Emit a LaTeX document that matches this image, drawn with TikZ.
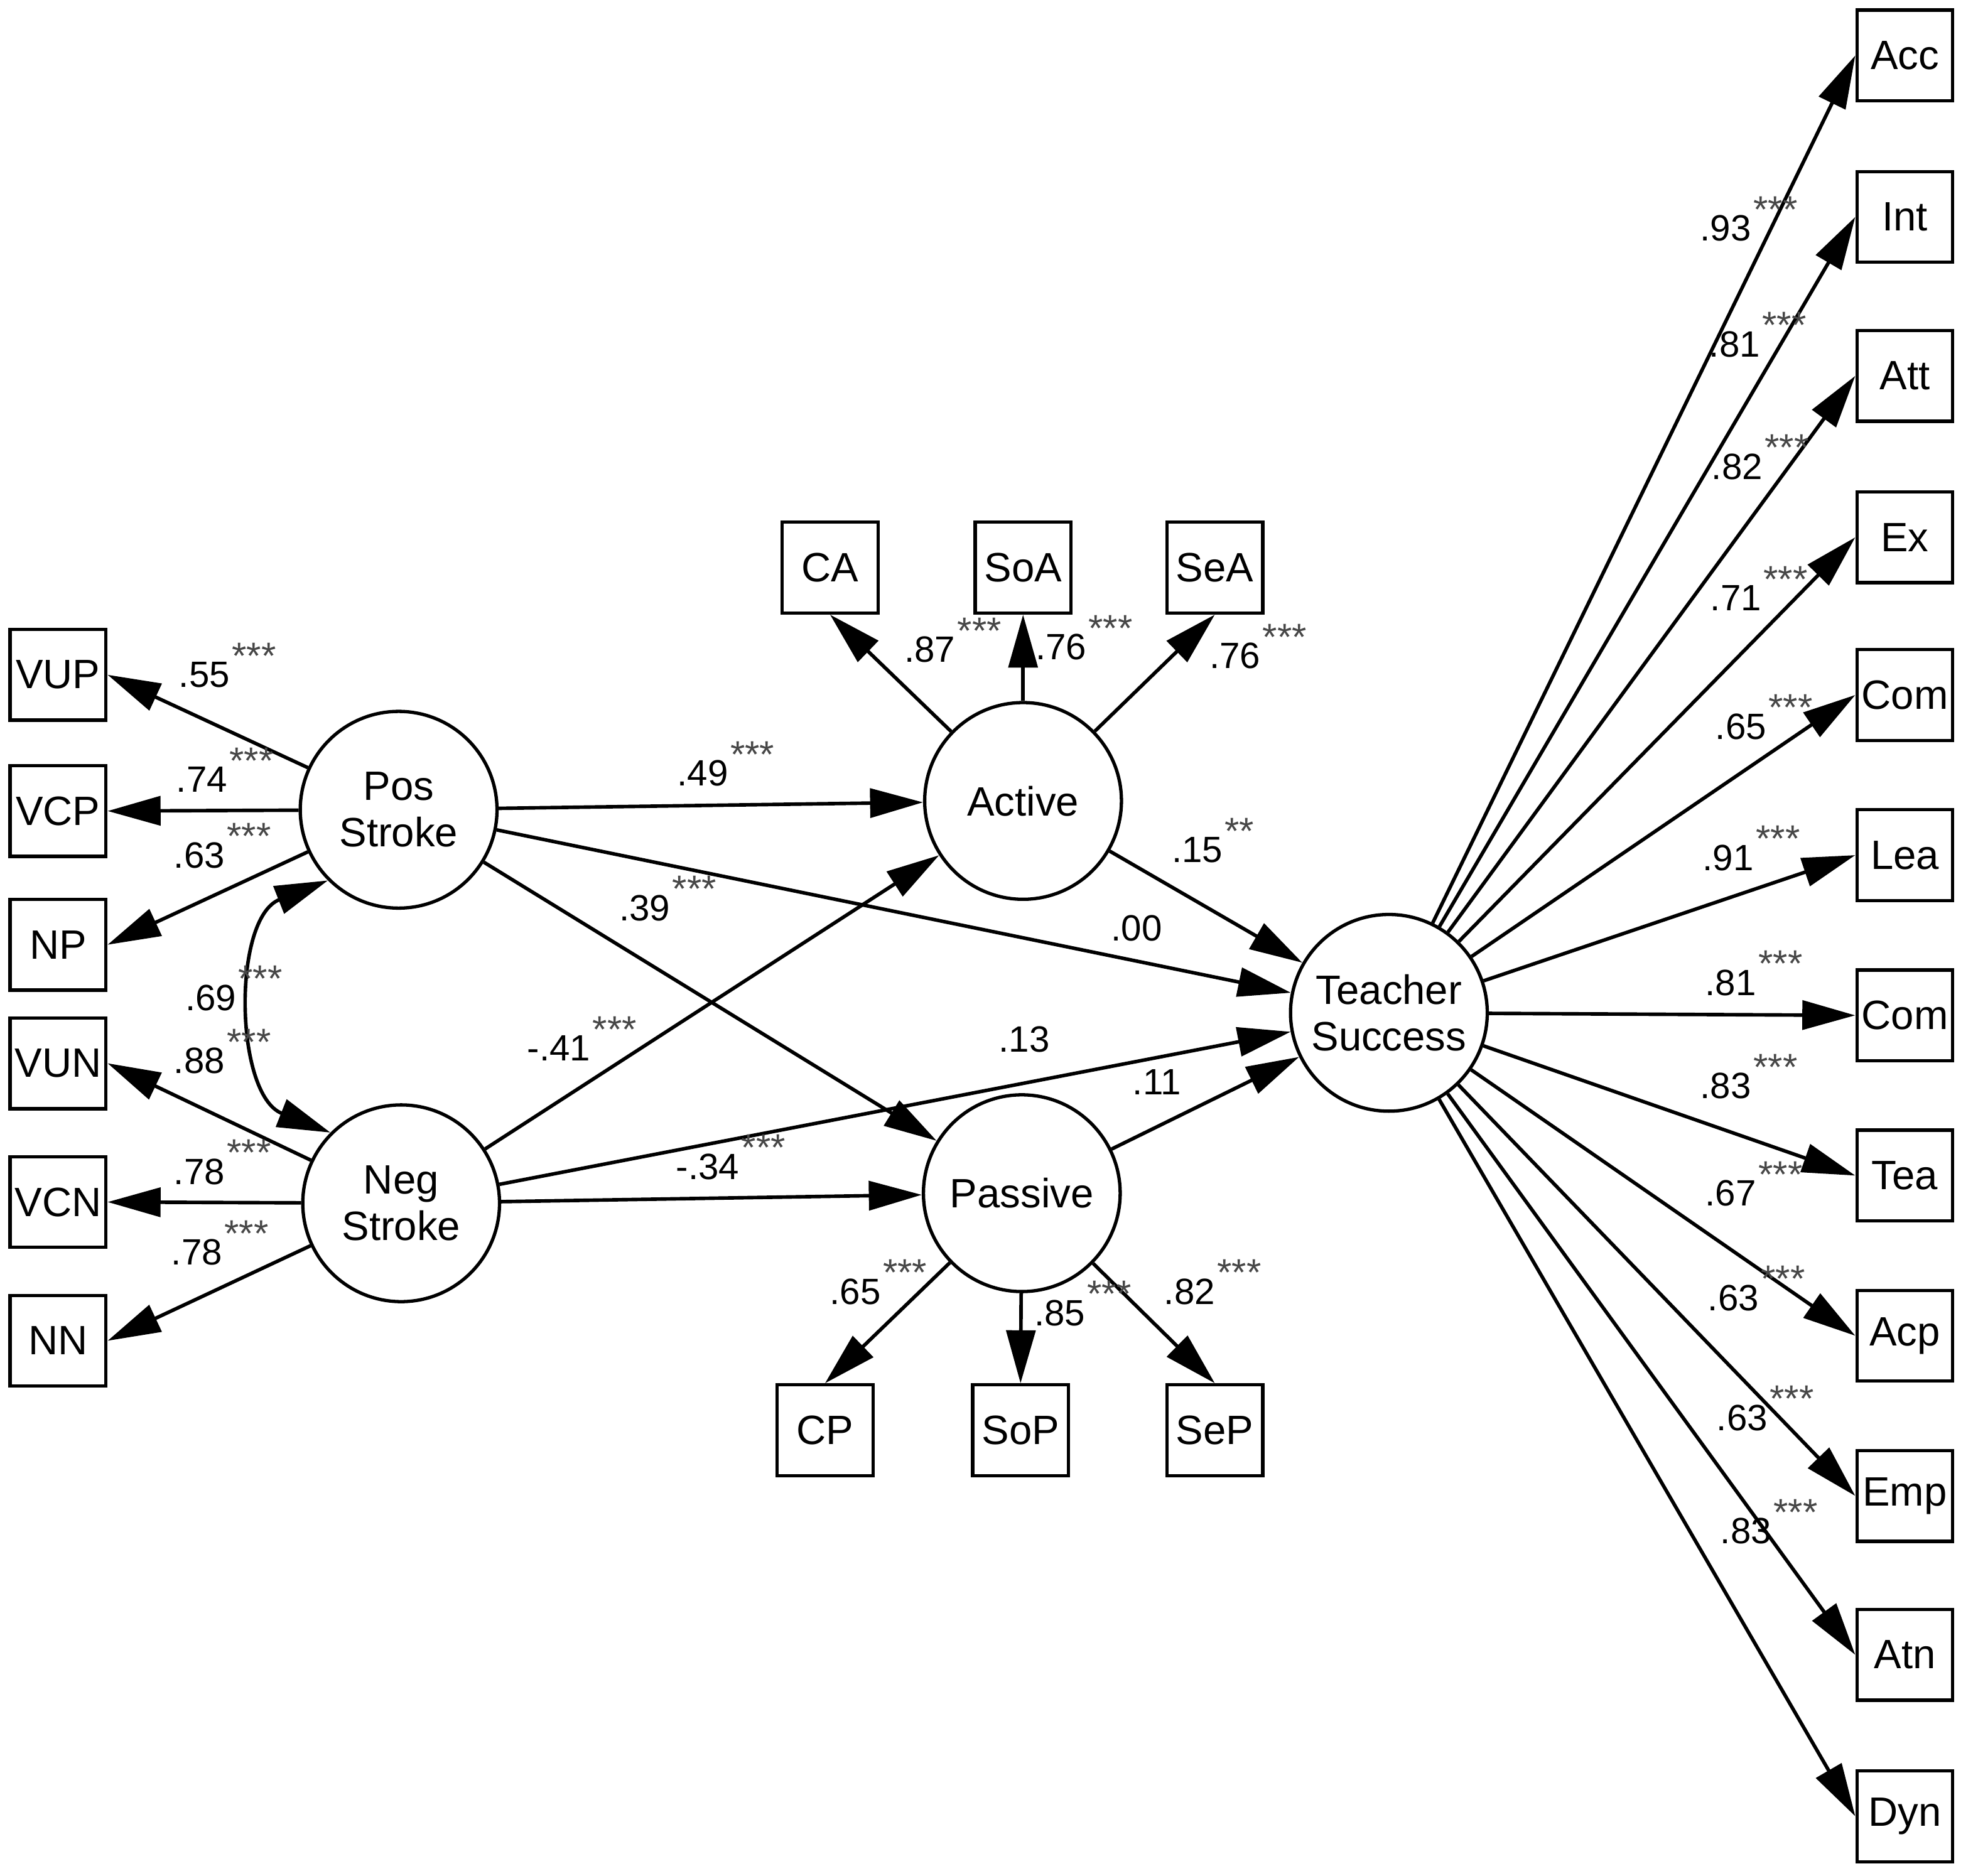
\documentclass[tikz,border=0pt]{standalone}
\usepackage{fontspec}
\setmainfont{Liberation Sans}
\usetikzlibrary{arrows.meta}

\tikzset{
  obs/.style={draw, line width=1.5pt, minimum width=1.52cm, minimum height=1.44cm,
    inner sep=0pt, font=\fontsize{18.5}{21}\selectfont},
  lat/.style={draw, circle, line width=1.5pt, minimum size=3.12cm, inner sep=0pt,
    align=center, font=\fontsize{18.5}{21}\selectfont},
  coef/.style={inner sep=0pt, font=\fontsize{16.5}{18}\selectfont},
  sig/.style={inner sep=0pt, anchor=north west, text=black!72,
    font=\fontsize{17}{18}\selectfont},
}
% coefficient with its stars: name, position, value, stars
\newcommand{\est}[4]{%
  \node[coef] (#1) at (#2) {#3};
  \node[sig] at ([xshift=-0.02cm,yshift=0.3cm]#1.north east) {#4};}

\begin{document}
\begin{tikzpicture}[x=0.02cm, y=-0.02cm, line width=1.6pt,
  >={Triangle[length=0.84cm,width=0.46cm]}]
  \useasboundingbox (0,0) rectangle (1568,1487);

  % left indicators
  \node[obs] (vup) at (46,535) {VUP};
  \node[obs] (vcp) at (46,643) {VCP};
  \node[obs] (np) at (46,749) {NP};
  \node[obs] (vun) at (46,843) {VUN};
  \node[obs] (vcn) at (46,953) {VCN};
  \node[obs] (nn) at (46,1063) {NN};

  % latent variables
  \node[lat] (pos) at (316,642) {Pos\\Stroke};
  \node[lat] (neg) at (318,954) {Neg\\Stroke};
  \node[lat] (act) at (811,635) {Active};
  \node[lat] (pas) at (810,946) {Passive};
  \node[lat] (ts) at (1101,803) {Teacher\\Success};

  % active / passive indicators
  \node[obs] (ca) at (658,450) {CA};
  \node[obs] (soa) at (811,450) {SoA};
  \node[obs] (sea) at (963,450) {SeA};
  \node[obs] (cp) at (654,1134) {CP};
  \node[obs] (sop) at (809,1134) {SoP};
  \node[obs] (sep) at (963,1134) {SeP};

  % teacher success indicators
  \node[obs] (acc) at (1510,44) {Acc};
  \node[obs] (int) at (1510,172) {Int};
  \node[obs] (att) at (1510,298) {Att};
  \node[obs] (ex) at (1510,426) {Ex};
  \node[obs] (coma) at (1510,551) {Com};
  \node[obs] (lea) at (1510,678) {Lea};
  \node[obs] (comb) at (1510,805) {Com};
  \node[obs] (tea) at (1510,932) {Tea};
  \node[obs] (acp) at (1510,1059) {Acp};
  \node[obs] (emp) at (1510,1186) {Emp};
  \node[obs] (atn) at (1510,1312) {Atn};
  \node[obs] (dyn) at (1510,1440) {Dyn};

  % loadings
  \draw[->] (pos) -- (vup.east);
  \draw[->] (pos) -- (vcp.east);
  \draw[->] (pos) -- (np.east);
  \draw[->] (neg) -- (vun.east);
  \draw[->] (neg) -- (vcn.east);
  \draw[->] (neg) -- (nn.east);
  \draw[->] (act) -- (ca.south);
  \draw[->] (act) -- (soa.south);
  \draw[->] (act) -- (sea.south);
  \draw[->] (pas) -- (cp.north);
  \draw[->] (pas) -- (sop.north);
  \draw[->] (pas) -- (sep.north);
  \draw[->] (ts) -- (acc.west);
  \draw[->] (ts) -- (int.west);
  \draw[->] (ts) -- (att.west);
  \draw[->] (ts) -- (ex.west);
  \draw[->] (ts) -- (coma.west);
  \draw[->] (ts) -- (lea.west);
  \draw[->] (ts) -- (comb.west);
  \draw[->] (ts) -- (tea.west);
  \draw[->] (ts) -- (acp.west);
  \draw[->] (ts) -- (emp.west);
  \draw[->] (ts) -- (atn.west);
  \draw[->] (ts) -- (dyn.west);

  % paths
  \draw[->] (pos) -- (act);
  \draw[->] (pos) -- (ts);
  \draw[->] (pos) -- (pas);
  \draw[->] (neg) -- (act);
  \draw[->] (neg) -- (ts);
  \draw[->] (neg) -- (pas);
  \draw[->] (act) -- (ts);
  \draw[->] (pas) -- (ts);
  \draw[<->] (pos.225) .. controls +(-76,30) and +(-76,-30) .. (neg.135);

  % estimates
  \est{e1}{162,535}{.55}{***}
  \est{e2}{160,618}{.74}{***}
  \est{e3}{158,678}{.63}{***}
  \est{e4}{167,791}{.69}{***}
  \est{e5}{158,841}{.88}{***}
  \est{e6}{158,929}{.78}{***}
  \est{e7}{156,993}{.78}{***}
  \est{e8}{557,613}{.49}{***}
  \est{e9}{511,720}{.39}{***}
  \est{e10}{443,831}{-.41}{***}
  \est{e11}{561,925}{-.34}{***}
  \node[coef] (e12) at (901,736) {.00};
  \node[coef] (e13) at (812,824) {.13};
  \node[coef] (e14) at (917,858) {.11};
  \est{e15}{949,674}{.15}{**}
  \est{e16}{737,515}{.87}{***}
  \est{e17}{841,513}{.76}{***}
  \est{e18}{979,520}{.76}{***}
  \est{e19}{678,1024}{.65}{***}
  \est{e20}{840,1041}{.85}{***}
  \est{e21}{943,1024}{.82}{***}
  \est{e22}{1368,181}{.93}{***}
  \est{e23}{1375,273}{.81}{***}
  \est{e24}{1377,370}{.82}{***}
  \est{e25}{1376,474}{.71}{***}
  \est{e26}{1380,576}{.65}{***}
  \est{e27}{1370,680}{.91}{***}
  \est{e28}{1372,779}{.81}{***}
  \est{e29}{1368,861}{.83}{***}
  \est{e30}{1372,946}{.67}{***}
  \est{e31}{1374,1029}{.63}{***}
  \est{e32}{1381,1124}{.63}{***}
  \est{e33}{1384,1214}{.83}{***}
\end{tikzpicture}
\end{document}
